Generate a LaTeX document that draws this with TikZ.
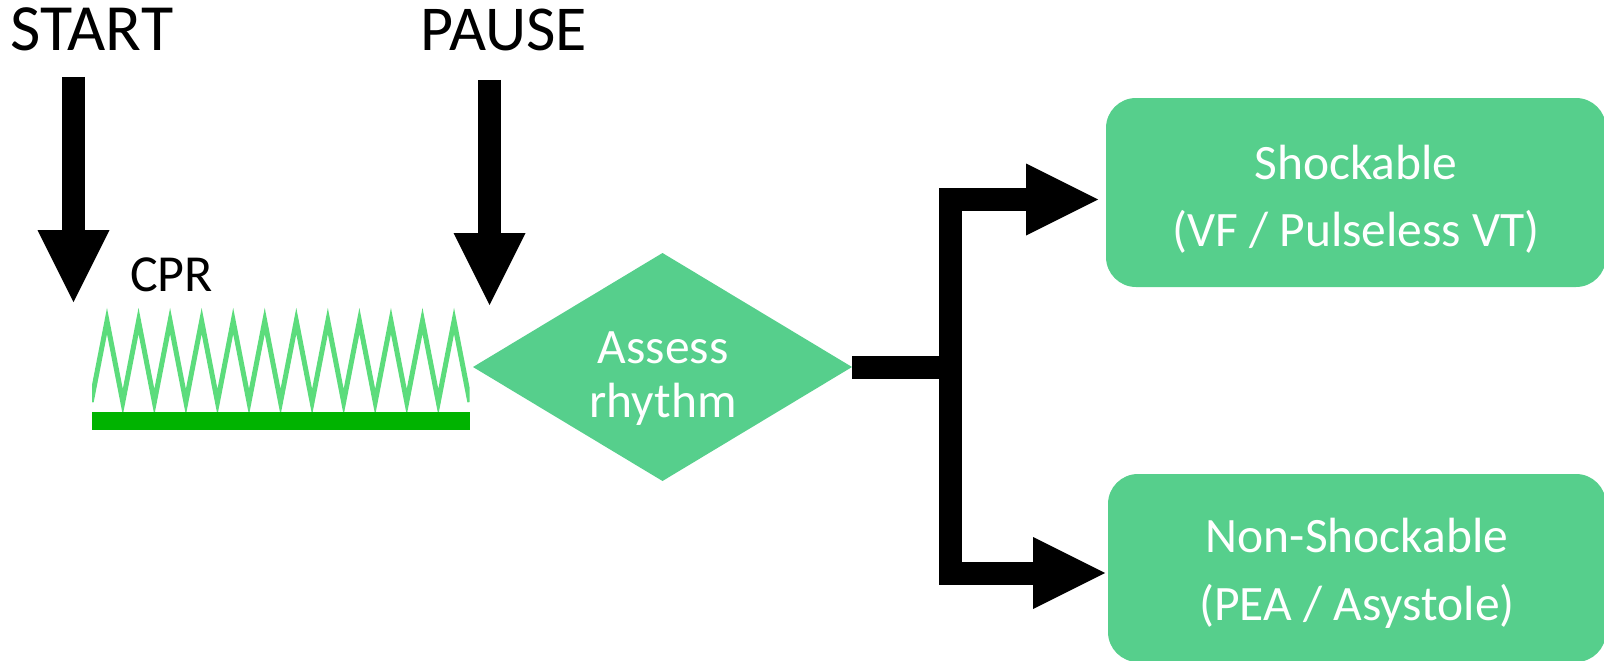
\documentclass[tikz,border=0pt]{standalone}
\usepackage{fontspec}
\setmainfont{Carlito}
\usetikzlibrary{arrows.meta,shapes.geometric}
\definecolor{boxgreen}{HTML}{56CF8C}
\definecolor{ziggreen}{HTML}{5CDC7C}
\definecolor{bargreen}{HTML}{00B300}
\begin{document}
\begin{tikzpicture}[x=1pt,y=-1pt,
  big/.style={font=\fontsize{66}{74}\selectfont, inner sep=0, anchor=base},
  lbl/.style={font=\fontsize{49.5}{56}\selectfont, inner sep=0, anchor=base},
  wlbl/.style={lbl, text=white},
  conn/.style={line width=23pt},
  head/.style={-{Triangle[length=72pt,width=72pt,line width=0pt]}},
  result/.style={fill=boxgreen, rounded corners=30pt, inner sep=0, outer sep=0},
  decision/.style={diamond, fill=boxgreen, inner sep=0, outer sep=0, minimum width=379pt, minimum height=228pt},
  zigline/.style={draw=ziggreen, line width=5pt, miter limit=10},
]
\useasboundingbox (0,0) rectangle (1604,661);
\clip (0,0) rectangle (1604,661);

% texts above
\node[big] (start) at (92,51) {START};
\node[big, font=\fontsize{64}{72}\selectfont] (pause) at (504,51) {PAUSE};
\node[lbl, font=\fontsize{52}{58}\selectfont] (cpr) at (171.5,291) {CPR};

% vertical arrows
\coordinate (startTop) at (73.5,77);
\coordinate (startTip) at (73.5,302);
\coordinate (pauseTop) at (489.5,80);
\coordinate (pauseTip) at (489.5,305);
\draw[conn,head] (startTop) -- (startTip);
\draw[conn,head] (pauseTop) -- (pauseTip);

% CPR zigzag
\begin{scope}
  \clip (92,290) rectangle (469.5,412);
  \draw[zigline]
    (91.2,402)
    \foreach \k in {0,...,11} {
      -- ({107+31.55*\k},321) -- ({122.8+31.55*\k},402)
    };
\end{scope}
\fill[bargreen] (92,412) rectangle (469.5,430);

% decision diamond
\node[decision] (rhythm) at (662.5,367) {};
\node[wlbl] (assess1) at (663,363) {Assess};
\node[wlbl] (assess2) at (663,417) {rhythm};

% result boxes
\node[result, minimum width=500pt, minimum height=189pt] (shock) at (1356,192.5) {};
\node[wlbl] (shock1) at (1356,179) {Shockable};
\node[wlbl] (shock2) at (1356,246) {(VF / Pulseless VT)};

\node[result, minimum width=498pt, minimum height=188pt] (nonshock) at (1357,568) {};
\node[wlbl] (non1) at (1357,552) {Non-Shockable};
\node[wlbl] (non2) at (1357,620) {(PEA / Asystole)};

% connectors
\coordinate (split) at (950,367);
\coordinate (shockIn) at (1098,199.5);
\coordinate (nonIn) at (1105,573);
\draw[conn] (rhythm.east) -- (split);
\draw[conn,head] (split) |- (shockIn);
\draw[conn,head] (split) |- (nonIn);
\end{tikzpicture}
\end{document}
